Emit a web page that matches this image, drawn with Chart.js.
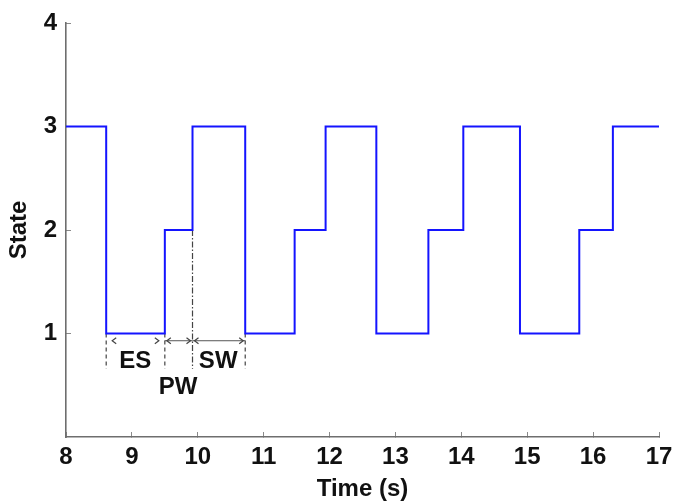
<!DOCTYPE html>
<html>
<head>
<meta charset="utf-8">
<script src="https://cdn.jsdelivr.net/npm/chart.js@4.4.1/dist/chart.umd.min.js"></script>
<style>
  html, body { margin: 0; padding: 0; background: #fff; }
  #wrap { width: 673px; height: 504px; }
</style>
</head>
<body>
<div id="wrap"><canvas id="chart" width="673" height="504"></canvas></div>
<script>
// --- dati ---
const stepTimes  = [8, 8.61, 9.50, 9.92, 10.72, 11.47, 11.94, 12.71, 13.50, 14.03, 14.89, 15.79, 16.30, 17];
const stepStates = [3, 1,    2,    3,    1,     2,     3,     1,     2,     3,     1,     2,     3,     3];
const xTicks = [8, 9, 10, 11, 12, 13, 14, 15, 16, 17];
const yTicks = [1, 2, 3, 4];

// annotazioni ES / PW / SW
const markTimes  = [8.61, 9.50, 9.92, 10.72];
const markTops   = [1, 1, 2, 1];
const markBottom = 0.66;
const arrowY      = 0.93;
const arrowFrom   = [8.61, 9.50, 9.92];
const arrowTo     = [9.50, 9.92, 10.72];
const arrowShaft  = [false, true, true];
const labelTexts  = ['ES', 'PW', 'SW'];
const labelX      = [9.05, 9.70, 10.31];
const labelY      = [0.73, 0.48, 0.73];

const FONT = '"Liberation Sans", Arial, sans-serif';

const datasets = [{
  data: stepTimes.map((t, i) => ({ x: t, y: stepStates[i] })),
  borderColor: '#1414ff',
  borderWidth: 2,
  stepped: true,
  pointRadius: 0,
  order: 0
}];

markTimes.forEach((t, i) => {
  datasets.push({
    data: [{ x: t, y: markTops[i] }, { x: t, y: markBottom }],
    borderColor: '#444',
    borderWidth: 1.2,
    borderDash: i === 2 ? [6, 2, 1.5, 2] : [4, 3],
    pointRadius: 0,
    order: 1
  });
});

arrowFrom.forEach((t, i) => {
  if (!arrowShaft[i]) return;
  datasets.push({
    data: [{ x: t, y: arrowY }, { x: arrowTo[i], y: arrowY }],
    borderColor: '#555',
    borderWidth: 1,
    pointRadius: 0,
    order: 1
  });
});

// punte delle frecce + etichette
const annotazioni = {
  id: 'annotazioni',
  afterDatasetsDraw(chart) {
    const ctx = chart.ctx;
    const xs = chart.scales.x, ys = chart.scales.y;
    const py = ys.getPixelForValue(arrowY);
    ctx.save();
    ctx.strokeStyle = '#444';
    ctx.lineWidth = 1.2;
    const head = (px, dir) => {
      ctx.beginPath();
      ctx.moveTo(px + dir * 5, py - 3);
      ctx.lineTo(px + 1 * dir, py);
      ctx.lineTo(px + dir * 5, py + 3);
      ctx.stroke();
    };
    arrowFrom.forEach((t, i) => {
      const a = xs.getPixelForValue(t) + 1;
      const b = xs.getPixelForValue(arrowTo[i]) - 1;
      if (arrowShaft[i]) {
        head(a, 1);
        head(b, -1);
      } else {
        head(a + 4, 1);
        head(b - 4, -1);
      }
    });
    ctx.fillStyle = '#111';
    ctx.font = 'bold 24px ' + FONT;
    ctx.textAlign = 'center';
    ctx.textBaseline = 'middle';
    labelTexts.forEach((txt, i) => {
      ctx.fillText(txt, xs.getPixelForValue(labelX[i]), ys.getPixelForValue(labelY[i]));
    });
    ctx.restore();
  }
};

window.addEventListener('DOMContentLoaded', () => {
  const ctx = document.getElementById('chart').getContext('2d');
  new Chart(ctx, {
    type: 'line',
    data: { datasets },
    options: {
      responsive: false,
      animation: false,
      layout: { padding: { top: 23, right: 14, left: 0, bottom: 0 } },
      plugins: { legend: { display: false }, tooltip: { enabled: false } },
      scales: {
        x: {
          type: 'linear',
          min: 8, max: 17,
          afterBuildTicks: s => { s.ticks = xTicks.map(v => ({ value: v })); },
          afterFit: s => { s.height = 67; s.paddingLeft = 0; s.paddingRight = 0; },
          border: { color: '#6e6e6e', width: 1.6 },
          grid: { drawOnChartArea: false, drawTicks: true, tickLength: -5, color: '#8a8a8a', lineWidth: 1 },
          ticks: { color: '#111', padding: 11, font: { family: FONT, size: 24, weight: 'bold' }, maxRotation: 0 },
          title: { display: true, text: 'Time (s)', color: '#111', padding: { top: 5, bottom: 0 },
                   font: { family: FONT, size: 24, weight: 'bold' } }
        },
        y: {
          type: 'linear',
          min: 0, max: 4,
          afterBuildTicks: s => { s.ticks = yTicks.map(v => ({ value: v })); },
          afterFit: s => { s.width = 66; s.paddingTop = 0; s.paddingBottom = 0; },
          border: { color: '#6e6e6e', width: 1.6 },
          grid: { drawOnChartArea: false, drawTicks: true, tickLength: -5, color: '#8a8a8a', lineWidth: 1 },
          ticks: { color: '#111', padding: 14, font: { family: FONT, size: 24, weight: 'bold' } },
          title: { display: true, text: 'State', color: '#111', padding: { top: 5, bottom: 0 },
                   font: { family: FONT, size: 24, weight: 'bold' } }
        }
      }
    },
    plugins: [annotazioni]
  });
});
</script>
</body>
</html>
